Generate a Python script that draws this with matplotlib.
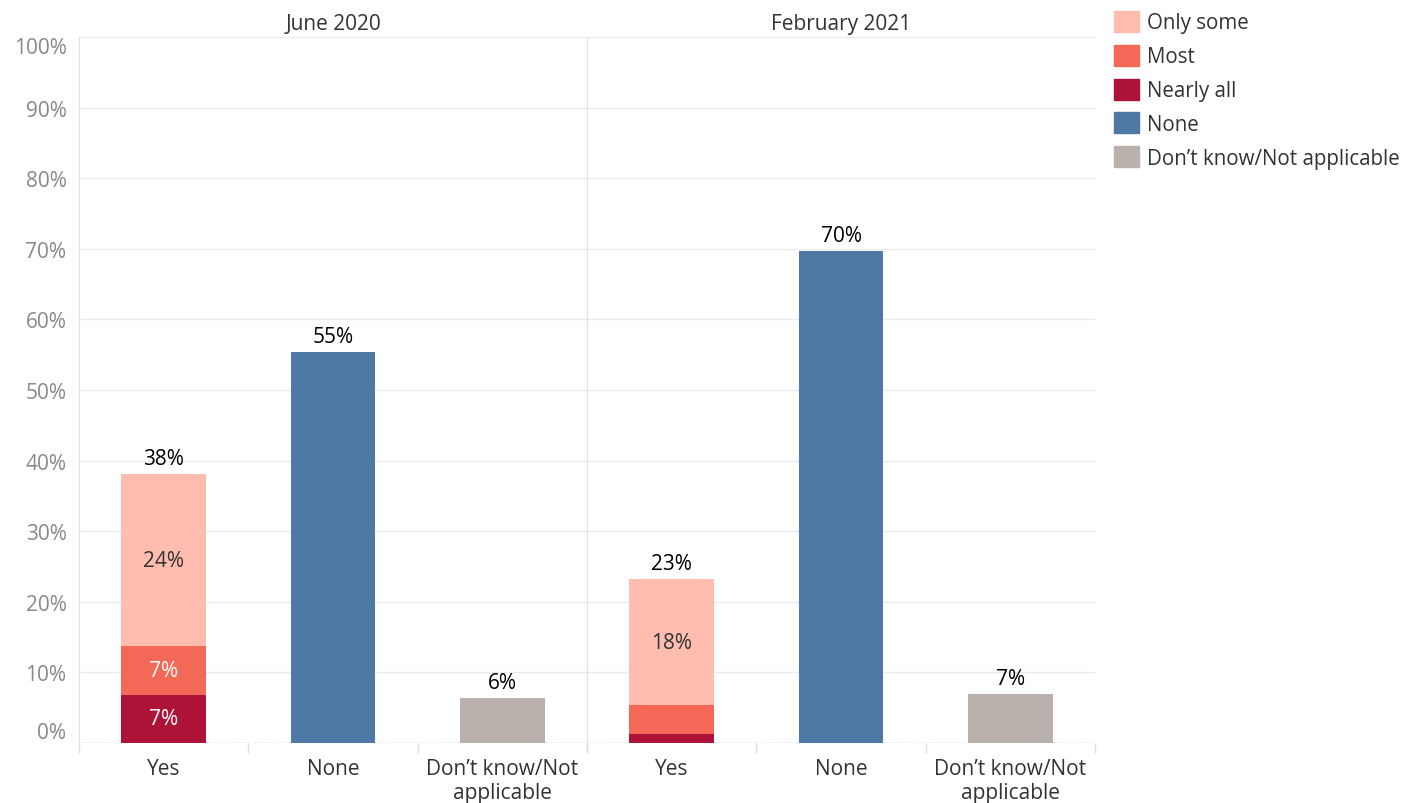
import numpy as np
import matplotlib.pyplot as plt
from matplotlib.patches import Patch

plt.rcParams['font.family'] = ['Open Sans', 'DejaVu Sans']

panels = ['June 2020', 'February 2021']
categories = ['Yes', 'None', 'Don\u2019t know/Not\napplicable']

# stacked parts of the "Yes" bar, per panel
nearly_all = [6.8, 1.3]
most = [6.9, 4.1]
only_some = [24.4, 17.8]
none_vals = [55.4, 69.7]
dont_know = [6.4, 6.9]

# printed labels
yes_totals = ['38%', '23%']
none_labels = ['55%', '70%']
dk_labels = ['6%', '7%']
nearly_all_labels = ['7%', None]
most_labels = ['7%', None]
only_some_labels = ['24%', '18%']

c_only = '#FEBDAF'
c_most = '#F36857'
c_nearly = '#AD1238'
c_none = '#4E79A7'
c_dk = '#BAB0AC'

fs = 15

fig = plt.figure(figsize=(14.16, 8.04), dpi=100)
W, H = 1416, 804
bottom_px, top_px = 744, 38
axes_x = [(79, 587), (587, 1095)]

x = np.arange(len(categories))
width = 0.5

for i, (x0, x1) in enumerate(axes_x):
    ax = fig.add_axes([x0 / W, 1 - bottom_px / H, (x1 - x0) / W, (bottom_px - top_px) / H])
    # Yes stack
    ax.bar(x[0], nearly_all[i], width, color=c_nearly)
    ax.bar(x[0], most[i], width, bottom=nearly_all[i], color=c_most)
    ax.bar(x[0], only_some[i], width, bottom=nearly_all[i] + most[i], color=c_only)
    ax.bar(x[1], none_vals[i], width, color=c_none)
    ax.bar(x[2], dont_know[i], width, color=c_dk)

    total = nearly_all[i] + most[i] + only_some[i]
    ax.text(x[0], total + 0.7, yes_totals[i], ha='center', va='bottom', fontsize=fs, color='black')
    ax.text(x[1], none_vals[i] + 0.7, none_labels[i], ha='center', va='bottom', fontsize=fs, color='black')
    ax.text(x[2], dont_know[i] + 0.7, dk_labels[i], ha='center', va='bottom', fontsize=fs, color='black')
    if nearly_all_labels[i]:
        ax.text(x[0], nearly_all[i] / 2, nearly_all_labels[i], ha='center', va='center',
                fontsize=fs, color='white')
    if most_labels[i]:
        ax.text(x[0], nearly_all[i] + most[i] / 2, most_labels[i], ha='center', va='center',
                fontsize=fs, color='white')
    if only_some_labels[i]:
        ax.text(x[0], nearly_all[i] + most[i] + only_some[i] / 2, only_some_labels[i],
                ha='center', va='center', fontsize=fs, color='#333333')

    ax.set_xlim(-0.5, 2.5)
    ax.set_ylim(0, 100)
    ax.set_yticks(np.arange(0, 101, 10))
    ax.yaxis.grid(True, color='#EBEBEB', linewidth=1)
    ax.set_axisbelow(True)
    ax.axhline(0, color='#BBBBBB', linewidth=1, linestyle=(0, (3, 2)), zorder=0.5)

    ax.set_xticks(x)
    ax.set_xticklabels(categories, fontsize=fs, color='#333333', linespacing=1.15)
    ax.tick_params(axis='x', length=0, pad=11)
    ax.set_xticks([-0.5, 0.5, 1.5, 2.5], minor=True)
    ax.tick_params(axis='x', which='minor', length=7, color='#E0E0E0', width=1)

    for s in ['top', 'right', 'bottom']:
        ax.spines[s].set_visible(False)
    ax.spines['left'].set_color('#E0E0E0')

    ax.set_title(panels[i], fontsize=fs, color='#333333', pad=6)

    if i == 0:
        ax.set_yticklabels([f'{v}%' for v in range(0, 101, 10)], fontsize=fs, color='#888888')
        ax.tick_params(axis='y', length=0, pad=9)
        ylabels = ax.get_yticklabels()
        ylabels[0].set_va('bottom')
        ylabels[-1].set_va('top')
    else:
        ax.tick_params(axis='y', length=0, labelleft=False)

handles = [Patch(color=c_only, label='Only some'),
           Patch(color=c_most, label='Most'),
           Patch(color=c_nearly, label='Nearly all'),
           Patch(color=c_none, label='None'),
           Patch(color=c_dk, label='Don\u2019t know/Not applicable')]
leg = fig.legend(handles=handles, loc='upper left', bbox_to_anchor=(1114 / W, 1 - 12 / H),
                 frameon=False, fontsize=14.8, handlelength=1.2, handleheight=1.2,
                 handletextpad=0.4, labelspacing=0.55, borderpad=0, borderaxespad=0,
                 labelcolor='#333333')

fig.savefig('out.png', dpi=100)
